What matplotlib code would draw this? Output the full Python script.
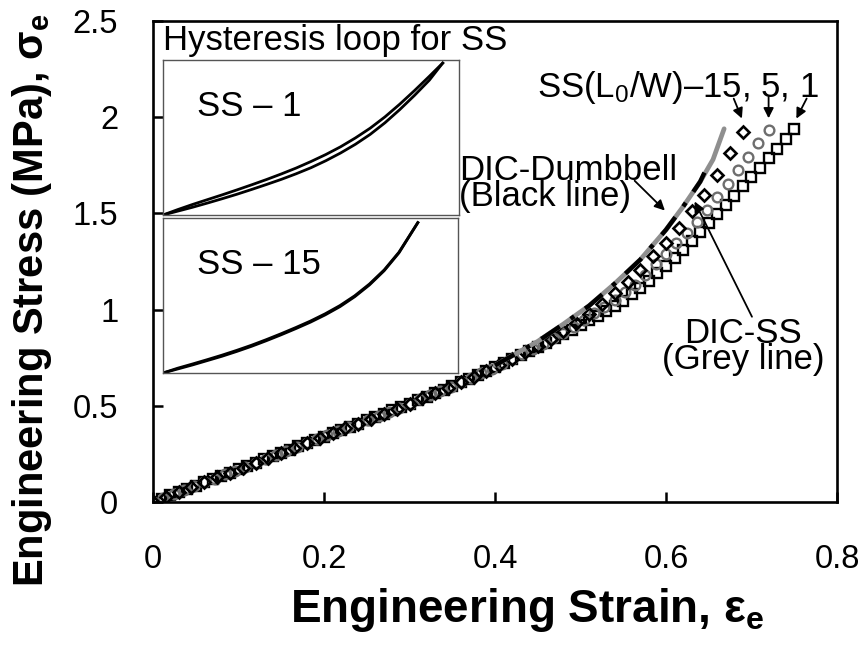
import matplotlib
matplotlib.use("Agg")
import matplotlib.pyplot as plt

plt.rcParams["font.family"] = ["Liberation Sans", "DejaVu Sans"]
plt.rcParams["mathtext.fontset"] = "custom"
plt.rcParams["mathtext.rm"] = "Liberation Sans"
plt.rcParams["mathtext.it"] = "Liberation Sans:italic"
plt.rcParams["mathtext.bf"] = "Liberation Sans:bold"

# SS, L0/W = 1 (open squares)
strain_ss1 = [0.00, 0.01, 0.02, 0.03, 0.04, 0.05, 0.06, 0.07, 0.08, 0.09,
              0.10, 0.11, 0.12, 0.13, 0.14, 0.15, 0.16, 0.17, 0.18, 0.19,
              0.20, 0.21, 0.22, 0.23, 0.24, 0.25, 0.26, 0.27, 0.28, 0.29,
              0.30, 0.31, 0.32, 0.33, 0.34, 0.35, 0.36, 0.37, 0.38, 0.39,
              0.40, 0.41, 0.42, 0.43, 0.44, 0.45, 0.46, 0.47, 0.48, 0.49,
              0.50, 0.51, 0.52, 0.53, 0.54, 0.55, 0.56, 0.57, 0.58, 0.59,
              0.60, 0.61, 0.62, 0.63, 0.64, 0.65, 0.66, 0.67, 0.68, 0.69,
              0.70, 0.71, 0.72, 0.73, 0.74, 0.75]
stress_ss1 = [0.000, 0.017, 0.034, 0.051, 0.068, 0.085, 0.102, 0.119, 0.136, 0.153,
              0.170, 0.187, 0.204, 0.221, 0.238, 0.255, 0.272, 0.289, 0.306, 0.323,
              0.340, 0.357, 0.374, 0.391, 0.408, 0.425, 0.442, 0.459, 0.477, 0.494,
              0.512, 0.530, 0.548, 0.566, 0.584, 0.603, 0.622, 0.641, 0.660, 0.680,
              0.700, 0.720, 0.741, 0.762, 0.784, 0.806, 0.828, 0.850, 0.873, 0.896,
              0.920, 0.944, 0.969, 0.994, 1.020, 1.047, 1.080, 1.114, 1.150, 1.188,
              1.228, 1.270, 1.312, 1.356, 1.402, 1.450, 1.497, 1.545, 1.592, 1.640,
              1.688, 1.737, 1.786, 1.836, 1.887, 1.940]

# SS, L0/W = 5 (grey circles)
strain_ss5 = [0.000, 0.012, 0.024, 0.036, 0.048, 0.060, 0.072, 0.084, 0.096, 0.108,
              0.120, 0.132, 0.144, 0.156, 0.168, 0.180, 0.192, 0.204, 0.216, 0.228,
              0.240, 0.252, 0.264, 0.276, 0.288, 0.300, 0.312, 0.324, 0.336, 0.348,
              0.360, 0.372, 0.384, 0.396, 0.408, 0.420, 0.432, 0.444, 0.456, 0.468,
              0.480, 0.492, 0.504, 0.516, 0.528, 0.540, 0.552, 0.564, 0.576, 0.588,
              0.600, 0.612, 0.624, 0.636, 0.648, 0.660, 0.672, 0.684, 0.696, 0.708,
              0.720]
stress_ss5 = [0.000, 0.020, 0.041, 0.061, 0.082, 0.102, 0.122, 0.143, 0.163, 0.184,
              0.204, 0.224, 0.245, 0.265, 0.286, 0.306, 0.326, 0.347, 0.367, 0.388,
              0.408, 0.428, 0.449, 0.470, 0.490, 0.512, 0.534, 0.555, 0.577, 0.600,
              0.623, 0.645, 0.668, 0.692, 0.717, 0.742, 0.768, 0.794, 0.823, 0.850,
              0.880, 0.912, 0.945, 0.980, 1.015, 1.050, 1.090, 1.130, 1.180, 1.235,
              1.290, 1.345, 1.400, 1.455, 1.520, 1.585, 1.655, 1.725, 1.795, 1.865,
              1.935]

# SS, L0/W = 15 (open diamonds)
strain_ss15 = [0.000, 0.015, 0.030, 0.045, 0.060, 0.075, 0.090, 0.105, 0.120, 0.135,
               0.150, 0.165, 0.180, 0.195, 0.210, 0.225, 0.240, 0.255, 0.270, 0.285,
               0.300, 0.315, 0.330, 0.345, 0.360, 0.375, 0.390, 0.405, 0.420, 0.435,
               0.450, 0.465, 0.480, 0.495, 0.510, 0.525, 0.540, 0.555, 0.570, 0.585,
               0.600, 0.615, 0.630, 0.645, 0.660, 0.675, 0.690]
stress_ss15 = [0.000, 0.026, 0.051, 0.077, 0.102, 0.128, 0.153, 0.179, 0.204, 0.230,
               0.255, 0.281, 0.306, 0.332, 0.357, 0.383, 0.408, 0.434, 0.460, 0.486,
               0.512, 0.539, 0.566, 0.594, 0.623, 0.652, 0.682, 0.713, 0.745, 0.778,
               0.812, 0.848, 0.887, 0.930, 0.978, 1.030, 1.085, 1.143, 1.208, 1.278,
               1.345, 1.423, 1.510, 1.598, 1.700, 1.815, 1.925]

# DIC measurements
strain_dic_ss = [0.40, 0.45, 0.48, 0.51, 0.54, 0.57, 0.60, 0.62, 0.64, 0.655, 0.668]
stress_dic_ss = [0.710, 0.835, 0.925, 1.020, 1.135, 1.260, 1.415, 1.535, 1.665, 1.780, 1.940]
strain_dic_db = [0.40, 0.45, 0.48, 0.51, 0.54, 0.57, 0.60, 0.62, 0.64, 0.650]
stress_dic_db = [0.710, 0.835, 0.925, 1.020, 1.135, 1.260, 1.415, 1.535, 1.665, 1.760]

# hysteresis loops (normalised inset coordinates)
loop1_x = [0.0, 0.05, 0.1, 0.15, 0.2, 0.25, 0.3, 0.35, 0.4, 0.45,
           0.5, 0.55, 0.6, 0.65, 0.7, 0.75, 0.8, 0.85, 0.9, 0.945]
loop1_load = [0.0, 0.025, 0.050, 0.077, 0.105, 0.134, 0.165, 0.197, 0.230, 0.266,
              0.305, 0.350, 0.400, 0.456, 0.520, 0.595, 0.680, 0.772, 0.870, 0.980]
loop1_unload = [0.0, 0.035, 0.068, 0.099, 0.130, 0.162, 0.195, 0.229, 0.265, 0.303,
                0.345, 0.390, 0.440, 0.497, 0.560, 0.633, 0.715, 0.803, 0.895, 0.980]
loop15_x = [0.0, 0.05, 0.1, 0.15, 0.2, 0.25, 0.3, 0.35, 0.4, 0.45,
            0.5, 0.55, 0.6, 0.65, 0.7, 0.75, 0.8, 0.864]
loop15_load = [0.0, 0.026, 0.052, 0.080, 0.108, 0.139, 0.172, 0.208, 0.246, 0.286,
               0.328, 0.375, 0.428, 0.492, 0.568, 0.660, 0.775, 0.970]
loop15_unload = [0.0, 0.031, 0.058, 0.086, 0.115, 0.146, 0.179, 0.215, 0.253, 0.293,
                 0.335, 0.382, 0.435, 0.498, 0.574, 0.665, 0.779, 0.970]

x_ticks = [0, 0.2, 0.4, 0.6, 0.8]
y_ticks = [0, 0.5, 1, 1.5, 2, 2.5]

fig = plt.figure(figsize=(8.66, 6.47), dpi=100)
ax = fig.add_axes([0.1767, 0.2241, 0.7898, 0.7434])

ax.plot(strain_ss1, stress_ss1, "s", ms=6.5, mfc="none", mec="black", mew=1.7)
ax.plot(strain_ss5, stress_ss5, "o", ms=7, mfc="none", mec="#6e6e6e", mew=1.7)
ax.plot(strain_ss15, stress_ss15, "D", ms=6, mfc="none", mec="black", mew=1.9)
ax.plot(strain_dic_ss, stress_dic_ss, "-", color="#8f8f8f", lw=3.4, solid_capstyle="round")
ax.plot(strain_dic_db, stress_dic_db, color="black", lw=3.2, linestyle=(0, (5, 3, 1, 3)))

ax.set_xlim(0, 0.8)
ax.set_ylim(0, 2.5)
ax.set_xticks(x_ticks)
ax.set_xticklabels(["0", "0.2", "0.4", "0.6", "0.8"])
ax.set_yticks(y_ticks)
ax.set_yticklabels(["0", "0.5", "1", "1.5", "2", "2.5"])
ax.tick_params(direction="in", length=7, width=1.8, labelsize=23.5)
ax.tick_params(axis="x", pad=30)
ax.tick_params(axis="y", pad=25)
for sp in ax.spines.values():
    sp.set_linewidth(1.9)

ax.set_xlabel("Engineering Strain, ε$_\\mathbf{e}$", fontsize=33, fontweight="bold")
ax.xaxis.set_label_coords(0.547, -0.175)
ax.set_ylabel("Engineering Stress (MPa), σ$_\\mathbf{e}$", fontsize=30, fontweight="bold")
ax.yaxis.set_label_coords(-0.145, 0.42)

# annotations
fs = 25
ax.text(0.778, 2.156, "SS(L$_\\mathregular{0}$/W)–15, 5, 1", fontsize=fs, ha="right", va="center")
arrow = dict(arrowstyle="-|>,head_length=0.6,head_width=0.3", color="black", lw=1.3)
ax.annotate("", xy=(0.690, 1.98), xytext=(0.678, 2.11), arrowprops=arrow)
ax.annotate("", xy=(0.720, 1.98), xytext=(0.720, 2.12), arrowprops=arrow)
ax.annotate("", xy=(0.751, 1.98), xytext=(0.766, 2.11), arrowprops=arrow)

ax.text(0.358, 1.655, "DIC-Dumbbell\n(Black line)", fontsize=fs, ha="left", va="center",
        multialignment="left", linespacing=0.72)
ax.annotate("", xy=(0.601, 1.505), xytext=(0.561, 1.68), arrowprops=arrow)

ax.text(0.690, 0.81, "DIC-SS\n(Grey line)", fontsize=fs, ha="center", va="center",
        multialignment="center", linespacing=0.74)
ax.annotate("", xy=(0.632, 1.575), xytext=(0.702, 0.95), arrowprops=arrow)

ax.text(0.012, 2.40, "Hysteresis loop for SS", fontsize=fs, ha="left", va="center")

# hysteresis insets
for rect, xs, load, unload, label in [
    ([0.1882, 0.6677, 0.3418, 0.2396], loop1_x, loop1_load, loop1_unload, "SS – 1"),
    ([0.1882, 0.4235, 0.3406, 0.2396], loop15_x, loop15_load, loop15_unload, "SS – 15"),
]:
    ins = fig.add_axes(rect)
    ins.plot(xs, load, color="black", lw=2.0)
    ins.plot(xs, unload, color="black", lw=2.0)
    ins.set_xlim(0, 1)
    ins.set_ylim(0, 1)
    ins.set_xticks([])
    ins.set_yticks([])
    for sp in ins.spines.values():
        sp.set_linewidth(1.0)
        sp.set_color("#555555")
    ins.text(0.115, 0.70, label, fontsize=fs, ha="left", va="center", transform=ins.transAxes)

fig.savefig("out.png", dpi=100)
